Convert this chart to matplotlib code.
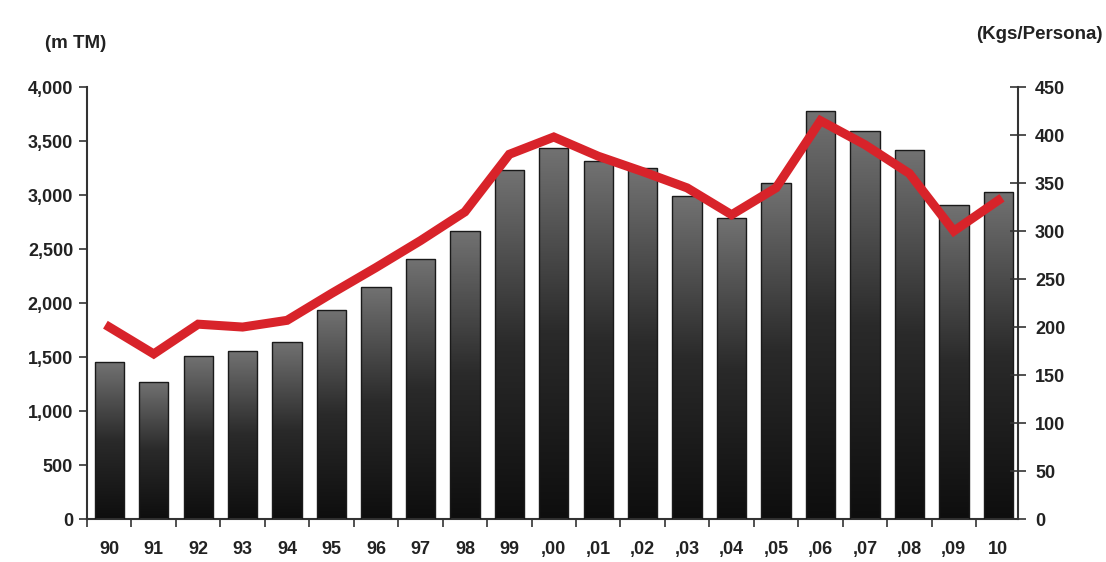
import numpy as np
import matplotlib
matplotlib.use("Agg")
import matplotlib.pyplot as plt
from matplotlib.colors import LinearSegmentedColormap

plt.rcParams['font.family'] = ['Liberation Sans', 'DejaVu Sans']

years = ["90", "91", "92", "93", "94", "95", "96", "97", "98", "99", ",00",
         ",01", ",02", ",03", ",04", ",05", ",06", ",07", ",08", ",09", "10"]
tonnes = [1450, 1270, 1510, 1560, 1640, 1940, 2150, 2410, 2670, 3230, 3440,
          3320, 3250, 2990, 2790, 3110, 3780, 3590, 3420, 2910, 3030]
kgs_per_person = [200, 172, 203, 200, 207, 235, 262, 290, 320, 380, 398,
                  378, 362, 345, 317, 345, 415, 390, 360, 300, 332]

fig = plt.figure(figsize=(11.06, 5.62), dpi=100)
ax = fig.add_axes([0.0787, 0.0765, 0.842, 0.7685])

x = np.arange(len(years))
bars = ax.bar(x, tonnes, width=0.66, color='none', edgecolor='#1a1a1a', linewidth=1.0, zorder=3)

cmap = LinearSegmentedColormap.from_list('g', ['#0e0e0e', '#2a2a2a', '#727272'])
grad = np.linspace(0, 1, 256).reshape(-1, 1)
for b in bars:
    x0, w, h = b.get_x(), b.get_width(), b.get_height()
    im = ax.imshow(grad, extent=(x0, x0 + w, 0, h), origin='lower', cmap=cmap,
                   aspect='auto', zorder=2)
    im.set_clip_path(b)

ax.set_xlim(-0.5, 20.45)
ax.set_ylim(0, 4000)
ax.set_yticks(np.arange(0, 4001, 500))
ax.set_yticklabels([f"{v:,}" for v in range(0, 4001, 500)])
ax.set_xticks(x)
ax.set_xticklabels(years)
ax.set_xticks(np.arange(-0.5, 20.5, 1), minor=True)
ax.tick_params(axis='x', which='major', length=0, pad=16)
ax.tick_params(axis='x', which='minor', length=6, width=1.2, direction='out', color='#333333')
ax.tick_params(axis='y', length=6, width=1.2, direction='out', color='#333333', pad=4)
for lab in ax.get_xticklabels() + ax.get_yticklabels():
    lab.set_fontsize(13)
    lab.set_fontweight('bold')
    lab.set_color('#222222')
for s in ['top', 'right']:
    ax.spines[s].set_visible(False)
for s in ['left', 'bottom']:
    ax.spines[s].set_linewidth(1.5)
    ax.spines[s].set_color('#333333')

ax2 = ax.twinx()
ax2.plot(x, kgs_per_person, color='#d8232a', linewidth=6.5, solid_joinstyle='miter', zorder=5)
ax2.set_ylim(0, 450)
ax2.set_yticks(np.arange(0, 451, 50))
ax2.tick_params(axis='y', length=12, width=1.2, direction='inout', color='#333333', pad=6)
for lab in ax2.get_yticklabels():
    lab.set_fontsize(13)
    lab.set_fontweight('bold')
    lab.set_color('#222222')
for s in ['top', 'left', 'bottom']:
    ax2.spines[s].set_visible(False)
ax2.spines['right'].set_linewidth(1.5)
ax2.spines['right'].set_color('#333333')

fig.text(0.041, 0.923, "(m TM)", fontsize=13.5, fontweight='bold', color='#222222',
         ha='left', va='center')
fig.text(0.997, 0.938, "(Kgs/Persona)", fontsize=13.5, fontweight='bold', color='#222222',
         ha='right', va='center')

fig.savefig("out.png", dpi=100)
